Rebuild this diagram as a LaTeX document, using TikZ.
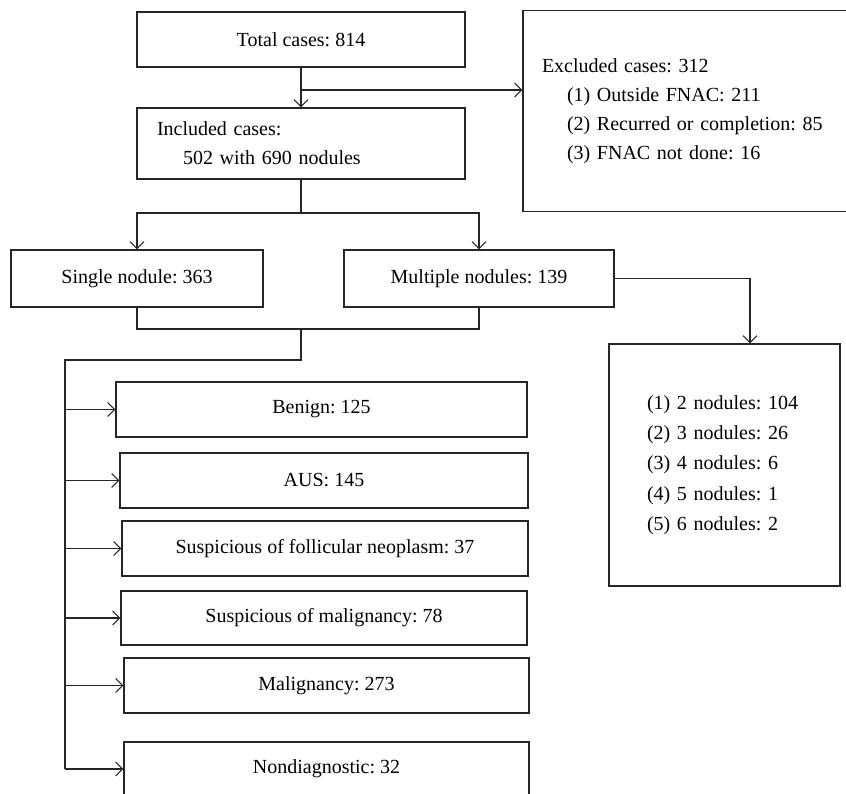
\documentclass[tikz,border=0pt]{standalone}
\usepackage{fontspec}
\setmainfont{Liberation Serif}
\usetikzlibrary{arrows.meta}
\begin{document}
\begin{tikzpicture}[x=1pt,y=-1pt,
  line width=1.1pt, draw=black!85,
  box/.style={draw=black!85, line width=1.1pt, inner sep=0pt, align=center,
    font=\fontsize{20}{29}\selectfont\frenchspacing},
  arr/.style={-{Straight Barb[length=7pt,width=14pt,line width=1.1pt]}},
  conn/.style={draw=black!85, line width=1.1pt}]
\useasboundingbox (0,0) rectangle (846,794);
\clip (0,0) rectangle (846,794);

\node[box, minimum width=328pt, minimum height=55pt] (total) at (301,39.5) {Total cases: 814};
\node[box, minimum width=328pt, minimum height=71pt, text width=288pt, inner xsep=20pt, align=left] (incl) at (301,143.5)
  {Included cases:\\\hspace*{26pt}502 with 690 nodules};
\node[box, minimum width=337pt, minimum height=201pt, text width=299pt, inner xsep=19pt, align=left] (excl) at (691.5,111)
  {Excluded cases: 312\\
   \hspace*{25pt}(1) Outside FNAC: 211\\
   \hspace*{25pt}(2) Recurred or completion: 85\\
   \hspace*{25pt}(3) FNAC not done: 16};
\node[box, minimum width=252pt, minimum height=57pt] (single) at (137,278.5) {Single nodule: 363};
\node[box, minimum width=270pt, minimum height=57pt] (multi) at (479,278.5) {Multiple nodules: 139};
\node[box, minimum width=231pt, minimum height=242pt, text width=155pt, inner xsep=38pt, align=left,
  font=\fontsize{20}{30.3}\selectfont\frenchspacing] (nod) at (724.5,465)
  {(1) 2 nodules: 104\\(2) 3 nodules: 26\\(3) 4 nodules: 6\\(4) 5 nodules: 1\\(5) 6 nodules: 2};

\node[box, minimum width=411pt, minimum height=55pt] (benign) at (321.5,409.5) {Benign: 125};
\node[box, minimum width=408pt, minimum height=55pt] (aus) at (324,480.5) {AUS: 145};
\node[box, minimum width=406pt, minimum height=55pt] (sfn) at (325,548.5) {Suspicious of follicular neoplasm: 37};
\node[box, minimum width=406pt, minimum height=54pt] (sm) at (324,618) {Suspicious of malignancy: 78};
\node[box, minimum width=405pt, minimum height=55pt] (mal) at (326.5,685.5) {Malignancy: 273};
\node[box, minimum width=405pt, minimum height=54pt] (nondiag) at (326.5,769) {Nondiagnostic: 32};

% top
\draw[conn,arr] (total.south) -- (incl.north);
\coordinate (b1) at (301,90);
\draw[conn,arr] (b1) -- (b1 -| excl.west);
% split
\coordinate (j1) at (301,213);
\draw[conn] (incl.south) -- (j1);
\draw[conn,arr] (j1) -| (single.north);
\draw[conn,arr] (j1) -| (multi.north);
% multiple -> nodules
\coordinate (m1) at (750,278.5);
\draw[conn,arr] (multi.east) -- (m1) -- (m1 |- nod.north);
% merge
\coordinate (j2) at (301,329);
\coordinate (j3) at (301,360);
\coordinate (sp) at (65,360);
\draw[conn] (single.south) |- (j2) -| (multi.south);
\draw[conn] (j2) -- (j3) -- (sp) -- (sp |- nondiag.west);
\foreach \b in {benign,aus,sfn,sm,mal,nondiag}
  \draw[conn,arr] (sp |- \b.west) -- (\b.west);
\end{tikzpicture}
\end{document}
